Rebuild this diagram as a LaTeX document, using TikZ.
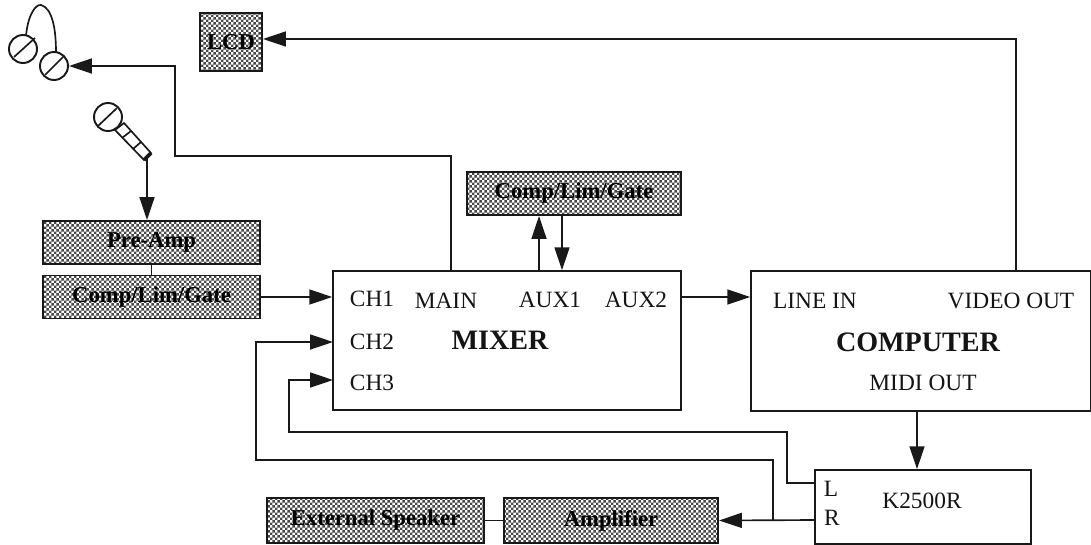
\documentclass[tikz,border=0pt]{standalone}
\usepackage{fontspec}
\setmainfont{Liberation Serif}
\usetikzlibrary{arrows.meta,calc,patterns}
\definecolor{LineClr}{rgb}{0.1,0.1,0.1}
\definecolor{TextClr}{rgb}{0.08,0.08,0.08}

\pgfdeclarepatternformonly{ShadeDots}{\pgfqpoint{0pt}{0pt}}{\pgfqpoint{2.8pt}{2.8pt}}{\pgfqpoint{2.8pt}{2.8pt}}{
  \pgfpathrectangle{\pgfqpoint{0pt}{0pt}}{\pgfqpoint{1.4pt}{1.4pt}}
  \pgfpathrectangle{\pgfqpoint{1.4pt}{1.4pt}}{\pgfqpoint{1.4pt}{1.4pt}}
  \pgfusepath{fill}
}

\tikzset{
  wire/.style={line width=0.95pt,color=LineClr},
  arrowwire/.style={wire,-{Triangle[length=13pt,width=8.5pt]}},
  shadebox/.style={draw=LineClr,line width=1.1pt,pattern=ShadeDots,pattern color=black!72,inner sep=0pt,
    text=black,font=\fontsize{12.9}{15}\selectfont\bfseries},
  plainbox/.style={draw=LineClr,line width=0.95pt,fill=white,inner sep=0pt},
  portlabel/.style={inner sep=0pt,text=TextClr,font=\fontsize{13.3}{15}\selectfont},
  titlelabel/.style={inner sep=0pt,text=TextClr,font=\fontsize{16}{18}\selectfont\bfseries},
  earcup/.style={circle,draw=LineClr,line width=1.1pt,fill=white,minimum size=0.56cm,inner sep=0pt},
}

\begin{document}
\begin{tikzpicture}[x=0.02cm,y=-0.02cm]
\useasboundingbox (0,0) rectangle (1091,544);

% boxes
\node[plainbox,minimum width=6.96cm,minimum height=2.78cm] (mixer) at (507,340.5) {};
\node[plainbox,minimum width=6.8cm,minimum height=2.8cm] (computer) at (921,341) {};
\node[plainbox,minimum width=4.32cm,minimum height=1.48cm] (synth) at (923,507) {};

\node[shadebox,minimum width=1.24cm,minimum height=1.16cm] (lcd) at (231,42) {LCD};
\node[shadebox,minimum width=4.34cm,minimum height=0.86cm] (preamp) at (151.5,242.5) {Pre-Amp};
\node[shadebox,minimum width=4.34cm,minimum height=0.86cm] (compin) at (151.5,297) {Comp/Lim/Gate};
\node[shadebox,minimum width=4.28cm,minimum height=0.86cm] (compaux) at (574,193.5) {Comp/Lim/Gate};
\node[shadebox,minimum width=4.34cm,minimum height=0.9cm] (speaker) at (375.5,520.5) {External Speaker};
\node[shadebox,minimum width=4.28cm,minimum height=0.9cm] (amp) at (611,520.5) {Amplifier};

% labels
\node[portlabel] (chone) at (372,299) {CH1};
\node[portlabel] (chtwo) at (372,342) {CH2};
\node[portlabel] (chthree) at (372,383) {CH3};
\node[portlabel] (main) at (446,301) {MAIN};
\node[portlabel] (auxone) at (550,300) {AUX1};
\node[portlabel] (auxtwo) at (636,300) {AUX2};
\node[titlelabel] (mixertitle) at (500,340) {MIXER};
\node[portlabel] (linein) at (815,301) {LINE IN};
\node[portlabel] (videoout) at (1011,301) {VIDEO OUT};
\node[titlelabel] (computertitle) at (918,342) {COMPUTER};
\node[portlabel] (midiout) at (923,383) {MIDI OUT};
\node[portlabel] (lport) at (831,489) {L};
\node[portlabel] (rport) at (832,518) {R};
\node[portlabel] (synthtitle) at (922,501) {K2500R};

% headphones
\draw[wire] (26,36) .. controls (28,14) and (36,4) .. (41,5) .. controls (52,8) and (56,28) .. (56,52);
\node[earcup] (earleft) at (23,49) {};
\node[earcup] (earright) at (54,66) {};
\draw[wire] ($(earleft)+(-9,8)$) -- ($(earleft)+(12,-11)$);
\draw[wire] ($(earright)+(-9,9)$) -- ($(earright)+(10,-10)$);

% microphone
\node[earcup] (michead) at (108,117) {};
\draw[wire] ($(michead)+(-10,9)$) -- ($(michead)+(9,-9)$);
\coordinate (micend) at (147,158);
\draw[wire] (115,130) -- (124,123) -- (151,153) -- (144,160) -- cycle;
\draw[wire] (122,138) -- (131,131) (133,149) -- (141,142);
\draw[line width=2.2pt,color=LineClr] (144,160) -- (151,153);

% wires
\draw[arrowwire] (micend) -- (micend |- preamp.north);
\draw[wire] (preamp.south) -- (compin.north);
\draw[arrowwire] (compin.east) -- (compin.east -| mixer.west);

\coordinate (mainup) at (451,156);
\coordinate (phonecorner) at (175,156);
\draw[arrowwire] (mainup |- mixer.north) -- (mainup) -- (phonecorner) -- (phonecorner |- earright.east) -- (earright.east);

\coordinate (auxsend) at (539,0);
\coordinate (auxreturn) at (562,0);
\draw[arrowwire] (auxsend |- mixer.north) -- (auxsend |- compaux.south);
\draw[arrowwire] (auxreturn |- compaux.south) -- (auxreturn |- mixer.north);

\draw[arrowwire] (mixer.east |- compin.east) -- (computer.west |- compin.east);

\coordinate (videoup) at (1016,39);
\draw[arrowwire] (videoup |- computer.north) -- (videoup) -- (videoup -| lcd.east);
\draw[arrowwire] (917,0 |- computer.south) -- (917,0 |- synth.north);

\coordinate (leftout) at (815,483);
\coordinate (rightout) at (815,520);
\coordinate (chthreein) at (333,380);
\coordinate (chtwoin) at (333,342);
\coordinate (branch) at (773,520);

\draw[arrowwire] (leftout) -- (787,483) -- (787,432) -- (289,432) -- (289,380) -- (chthreein);
\draw[arrowwire] (branch) -- (773,460) -- (256,460) -- (256,342) -- (chtwoin);
\draw[arrowwire] (rightout) -- (amp.east);
\draw[wire] (speaker.east) -- (amp.west);

\end{tikzpicture}
\end{document}
